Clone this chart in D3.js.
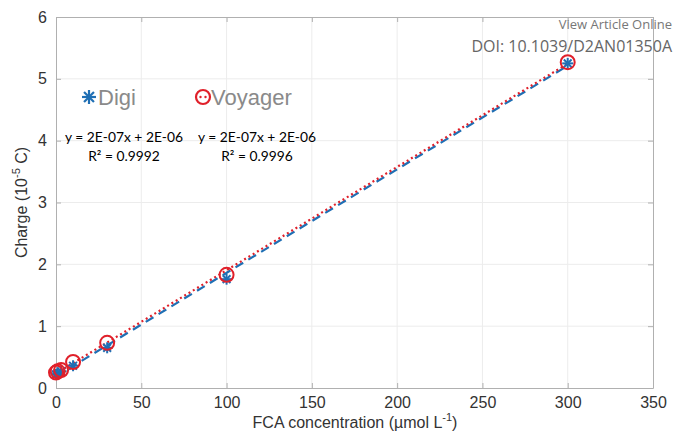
<!DOCTYPE html>
<meta charset="utf-8">
<body style="margin:0;background:#fff">
<script src="https://d3js.org/d3.v7.min.js"></script>
<script>

// data
var conc = [0, 1, 3, 10, 30, 100, 300];
var digi = [0.22, 0.24, 0.27, 0.36, 0.65, 1.76, 5.25];
var voyager = [0.25, 0.27, 0.29, 0.42, 0.73, 1.83, 5.27];
var xTicks = [0, 50, 100, 150, 200, 250, 300, 350];
var yTicks = [0, 1, 2, 3, 4, 5, 6];

var width = 674, height = 434;
var m = {left: 56, right: 653, top: 17, bottom: 388};

var svg = d3.select("body").append("svg")
    .attr("width", width)
    .attr("height", height)
    .style("font-family", "'Liberation Sans', Helvetica, Arial, sans-serif");

var x = d3.scaleLinear().domain([0, 350]).range([m.left, m.right]);
var y = d3.scaleLinear().domain([0, 6]).range([m.bottom, m.top]);

// grid
svg.append("g").selectAll("line").data(xTicks.slice(1, -1)).enter().append("line")
    .attr("x1", d => x(d)).attr("x2", d => x(d))
    .attr("y1", m.top).attr("y2", m.bottom)
    .attr("stroke", "#ececec");
svg.append("g").selectAll("line").data(yTicks.slice(1, -1)).enter().append("line")
    .attr("y1", d => y(d)).attr("y2", d => y(d))
    .attr("x1", m.left).attr("x2", m.right)
    .attr("stroke", "#ececec");

// axes (MATLAB style, ticks inward)
var fmt = d3.format("d");
var ax = svg.append("g").attr("transform", "translate(0," + m.bottom + ")")
    .call(d3.axisBottom(x).tickValues(xTicks).tickFormat(fmt).tickSizeInner(-5).tickSizeOuter(0).tickPadding(9));
var ay = svg.append("g").attr("transform", "translate(" + m.left + ",0)")
    .call(d3.axisLeft(y).tickValues(yTicks).tickFormat(fmt).tickSizeInner(-5).tickSizeOuter(0).tickPadding(9));
var at = svg.append("g").attr("transform", "translate(0," + m.top + ")")
    .call(d3.axisTop(x).tickValues(xTicks).tickSizeInner(-5).tickSizeOuter(0).tickFormat(""));
var ar = svg.append("g").attr("transform", "translate(" + m.right + ",0)")
    .call(d3.axisRight(y).tickValues(yTicks).tickSizeInner(-5).tickSizeOuter(0).tickFormat(""));
[ax, ay, at, ar].forEach(function(g) {
  g.selectAll("path, line").attr("stroke", "#b0b0b0");
  g.selectAll("text").attr("fill", "#333")
      .style("font-family", "'Liberation Sans', Arial, sans-serif").style("font-size", "16px");
});

// least-squares trend lines
function fit(xs, ys) {
  var mx = d3.mean(xs), my = d3.mean(ys);
  var sxy = d3.sum(xs, (v, i) => (v - mx) * (ys[i] - my));
  var sxx = d3.sum(xs, v => (v - mx) * (v - mx));
  var b = sxy / sxx;
  return {b: b, a: my - b * mx};
}
var fd = fit(conc, digi), fv = fit(conc, voyager);
var line = d3.line().x(d => x(d[0])).y(d => y(d[1]));
var xr = [0, 300];

svg.append("path")
    .attr("d", line(xr.map(v => [v, fd.a + fd.b * v])))
    .attr("fill", "none").attr("stroke", "#1f6fb4").attr("stroke-width", 2.2)
    .attr("stroke-dasharray", "9,6");
svg.append("path")
    .attr("d", line(xr.map(v => [v, fv.a + fv.b * v])))
    .attr("fill", "none").attr("stroke", "#e0202a").attr("stroke-width", 2.2)
    .attr("stroke-dasharray", "2,3");

// asterisk marker
function asterisk(g, cx, cy, r, col, w) {
  for (var k = 0; k < 4; k++) {
    var ang = k * Math.PI / 4;
    g.append("line")
        .attr("x1", cx - r * Math.cos(ang)).attr("y1", cy - r * Math.sin(ang))
        .attr("x2", cx + r * Math.cos(ang)).attr("y2", cy + r * Math.sin(ang))
        .attr("stroke", col).attr("stroke-width", w);
  }
}

var marks = svg.append("g");
conc.forEach(function(c, i) {
  asterisk(marks, x(c), y(digi[i]), 5.5, "#1f6fb4", 2);
});
marks.selectAll("circle").data(conc).enter().append("circle")
    .attr("cx", d => x(d))
    .attr("cy", (d, i) => y(voyager[i]))
    .attr("r", 7)
    .attr("fill", "none")
    .attr("stroke", "#e0202a")
    .attr("stroke-width", 2);

// legend
var lg = svg.append("g");
asterisk(lg, 89, 97, 7, "#1f6fb4", 2.2);
lg.append("text").attr("x", 98).attr("y", 105).text("Digi")
    .attr("fill", "#8a8a8a").style("font-size", "22px");
lg.append("circle").attr("cx", 203).attr("cy", 97).attr("r", 7)
    .attr("fill", "none").attr("stroke", "#e0202a").attr("stroke-width", 2.2);
lg.append("circle").attr("cx", 200.5).attr("cy", 97).attr("r", 1.2).attr("fill", "#e0202a");
lg.append("circle").attr("cx", 205.5).attr("cy", 97).attr("r", 1.2).attr("fill", "#e0202a");
lg.append("text").attr("x", 211).attr("y", 105).text("Voyager")
    .attr("fill", "#8a8a8a").style("font-size", "22px");

// trend equations
var eq = [
  {cx: 124, t1: "y = 2E-07x + 2E-06", t2: "R² = 0.9992"},
  {cx: 257, t1: "y = 2E-07x + 2E-06", t2: "R² = 0.9996"}
];
var eqg = svg.append("g").selectAll("g").data(eq).enter().append("g")
    .style("font-family", "Lato, 'Open Sans', sans-serif")
    .style("font-size", "13.8px").attr("text-anchor", "middle");
eqg.append("text").attr("x", d => d.cx).attr("y", 142).text(d => d.t1);
eqg.append("text").attr("x", d => d.cx).attr("y", 161).text(d => d.t2);

// axis titles
var yt = svg.append("text")
    .attr("transform", "translate(27," + ((m.top + m.bottom) / 2) + ") rotate(-90)")
    .attr("text-anchor", "middle").attr("fill", "#333").style("font-size", "16px");
yt.append("tspan").text("Charge (10");
yt.append("tspan").attr("dy", -7).style("font-size", "11px").text("-5");
yt.append("tspan").attr("dy", 7).text(" C)");

var xt = svg.append("text")
    .attr("x", 355).attr("y", 428)
    .attr("text-anchor", "middle").attr("fill", "#333").style("font-size", "16px");
xt.append("tspan").text("FCA concentration (µmol L");
xt.append("tspan").attr("dy", -7).style("font-size", "11px").text("-1");
xt.append("tspan").attr("dy", 7).text(")");

// watermark
svg.append("text").attr("x", 672).attr("y", 29).attr("text-anchor", "end")
    .attr("fill", "#777").style("font-family", "'Open Sans', sans-serif").style("font-size", "13px")
    .text("View Article Online");
svg.append("text").attr("x", 672).attr("y", 52).attr("text-anchor", "end")
    .attr("fill", "#666").style("font-family", "'Open Sans', sans-serif").style("font-size", "16px")
    .text("DOI: 10.1039/D2AN01350A");

</script>
</body>
